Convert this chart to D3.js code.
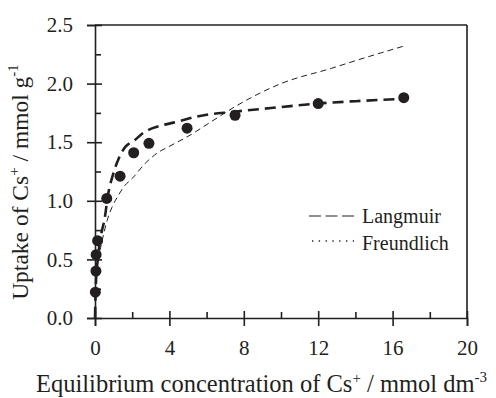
<!DOCTYPE html>
<html><head><meta charset="utf-8">
<script src="https://cdn.jsdelivr.net/npm/d3@7"></script>
<style>body{margin:0;background:#fff}svg{display:block}</style>
</head><body><svg id="c" width="496" height="398"></svg>
<script>
const obsC = [0.02,0.05,0.06,0.14,0.63,1.35,2.08,2.9,4.95,7.53,12.0,16.6];
const obsQ = [0.22,0.40,0.54,0.66,1.02,1.21,1.41,1.49,1.62,1.73,1.83,1.88];
const langC = [0,0.05,0.15,0.28,0.38,0.5,0.7,1.0,1.3,1.63,2.08,2.6,3.1,3.75,4.55,5.5,7.5,10,12,14,16.6];
const langQ = [0,0.3,0.5,0.67,0.75,0.83,1.05,1.24,1.37,1.46,1.51,1.58,1.62,1.65,1.68,1.72,1.76,1.80,1.83,1.85,1.87];
const freuC = [0.01,0.05,0.15,0.3,0.47,0.65,0.9,1.27,1.6,2.0,2.7,3.2,4.3,5.0,6.2,7.6,10.0,12.7,14.5,16.6];
const freuQ = [0.15,0.35,0.5,0.6,0.72,0.83,0.94,1.05,1.13,1.19,1.32,1.39,1.49,1.55,1.67,1.81,2.0,2.13,2.22,2.32];
const xTicks = [0,4,8,12,16,20];
const yTicks = [0,0.5,1.0,1.5,2.0,2.5];
const legendLabels = ["Langmuir","Freundlich"];

const FONT = "'Liberation Serif','Times New Roman','DejaVu Serif',serif";
const svg = d3.select("#c");
const x = d3.scaleLinear().domain([0,20]).range([95,467]);
const y = d3.scaleLinear().domain([0,2.5]).range([318,25]);
const ink = "#231f20";

// frame top & right
svg.append("line").attr("x1",x(0)).attr("x2",x(20)).attr("y1",y(2.5)).attr("y2",y(2.5)).attr("stroke",ink).attr("stroke-width",1.6);
svg.append("line").attr("x1",x(20)).attr("x2",x(20)).attr("y1",y(2.5)).attr("y2",y(0)).attr("stroke",ink).attr("stroke-width",1.6);

// x axis
const xa = svg.append("g").attr("transform",`translate(0,${y(0)})`)
  .call(d3.axisBottom(x).tickValues(xTicks).tickFormat(d3.format("d")).tickSize(8).tickPadding(14));
xa.attr("font-family",FONT);
xa.select(".domain").attr("stroke",ink).attr("stroke-width",1.6);
xa.selectAll(".tick line").attr("stroke",ink).attr("stroke-width",1.6).attr("y1",-7);
xa.selectAll(".tick text").attr("font-size",21).attr("fill",ink).attr("font-family",FONT);
const xm = svg.append("g").attr("transform",`translate(0,${y(0)})`)
  .call(d3.axisBottom(x).tickValues([2,6,10,14,18]).tickFormat("").tickSize(-6));
xm.select(".domain").remove();
xm.selectAll(".tick line").attr("stroke",ink).attr("stroke-width",1.6);

// y axis
const ya = svg.append("g").attr("transform",`translate(${x(0)},0)`)
  .call(d3.axisLeft(y).tickValues(yTicks).tickFormat(d3.format(".1f")).tickSize(8).tickPadding(14));
ya.attr("font-family",FONT);
ya.select(".domain").attr("stroke",ink).attr("stroke-width",1.6);
ya.selectAll(".tick line").attr("stroke",ink).attr("stroke-width",1.6).attr("x1",7);
ya.selectAll(".tick text").attr("font-size",21).attr("fill",ink).attr("font-family",FONT);
const ym = svg.append("g").attr("transform",`translate(${x(0)},0)`)
  .call(d3.axisLeft(y).tickValues([0.25,0.75,1.25,1.75,2.25]).tickFormat("").tickSize(-6));
ym.select(".domain").remove();
ym.selectAll(".tick line").attr("stroke",ink).attr("stroke-width",1.6);

// curves
const line = d3.line().x(d=>x(d[0])).y(d=>y(d[1])).curve(d3.curveMonotoneX);
svg.append("path").datum(freuC.map((c,i)=>[c,freuQ[i]])).attr("d",line)
  .attr("fill","none").attr("stroke",ink).attr("stroke-width",1).attr("stroke-dasharray","6,4");
svg.append("path").datum(langC.map((c,i)=>[c,langQ[i]])).attr("d",line)
  .attr("fill","none").attr("stroke",ink).attr("stroke-width",2.6).attr("stroke-dasharray","11,6");

// points
svg.selectAll("circle.p").data(obsC.map((c,i)=>[c,obsQ[i]])).enter().append("circle")
  .attr("cx",d=>x(d[0])).attr("cy",d=>y(d[1])).attr("r",5.5).attr("fill",ink);

// legend
const lg = svg.append("g").attr("font-family",FONT).attr("fill",ink);
lg.append("line").attr("x1",309).attr("x2",354).attr("y1",216).attr("y2",216)
  .attr("stroke",ink).attr("stroke-width",1).attr("stroke-dasharray","12,4.5");
lg.append("line").attr("x1",312).attr("x2",354).attr("y1",241).attr("y2",241)
  .attr("stroke",ink).attr("stroke-width",1.3).attr("stroke-dasharray","1.3,5.5");
lg.append("text").attr("x",362).attr("y",223).attr("font-size",20).text(legendLabels[0]);
lg.append("text").attr("x",362).attr("y",250).attr("font-size",20).text(legendLabels[1]);

// axis titles
const xt = svg.append("text").attr("x",36).attr("y",392).attr("text-anchor","start")
  .attr("font-size",24.5).attr("font-family",FONT).attr("fill",ink);
xt.append("tspan").text("Equilibrium concentration of Cs");
xt.append("tspan").attr("dy",-9).attr("font-size",15).text("+");
xt.append("tspan").attr("dy",9).text(" / mmol dm");
xt.append("tspan").attr("dy",-10).attr("font-size",15).text("-3");

const yt = svg.append("text").attr("transform","translate(28,182) rotate(-90)").attr("text-anchor","middle")
  .attr("font-size",23.5).attr("font-family",FONT).attr("fill",ink);
yt.append("tspan").text("Uptake of Cs");
yt.append("tspan").attr("dy",-9).attr("font-size",15).text("+");
yt.append("tspan").attr("dy",9).text(" / mmol g");
yt.append("tspan").attr("dy",-10).attr("font-size",15).text("-1");
</script></body></html>
